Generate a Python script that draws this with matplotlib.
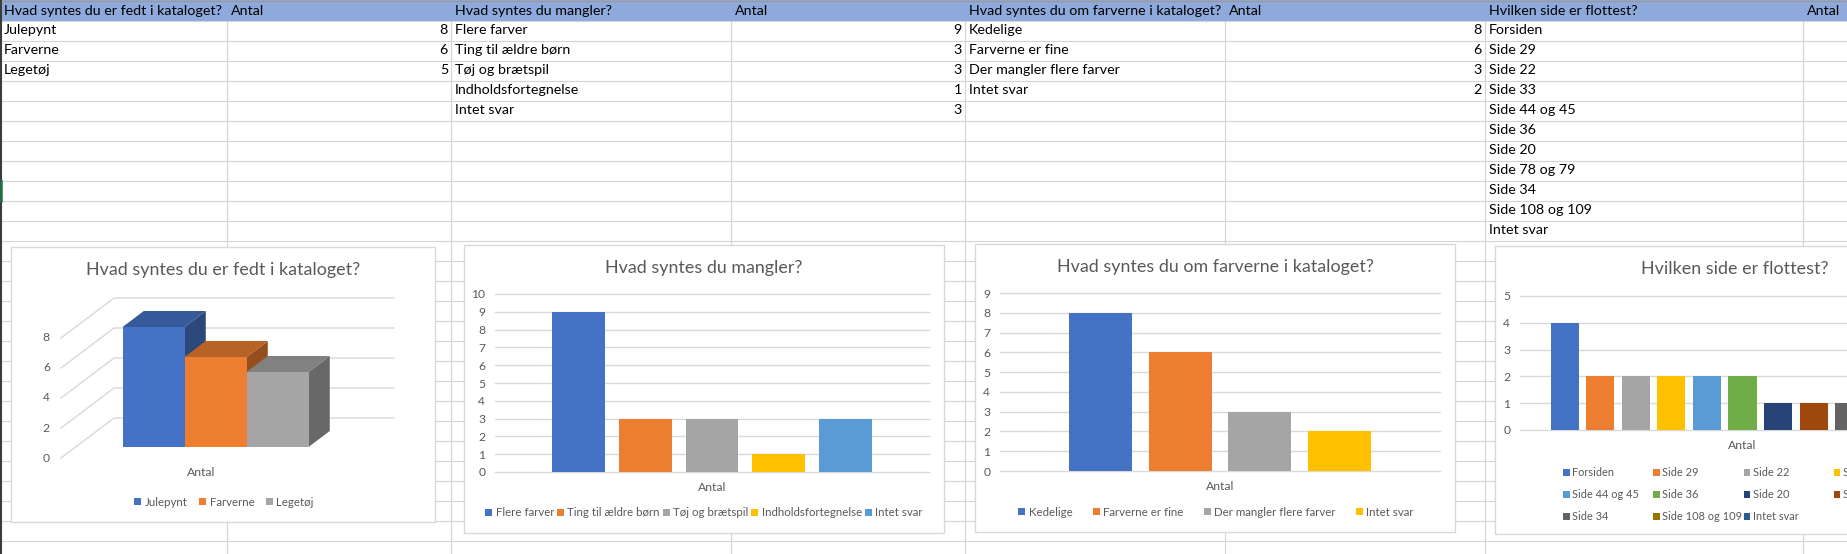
import matplotlib
matplotlib.use('Agg')
import matplotlib.pyplot as plt
from matplotlib.patches import Rectangle, Polygon, Patch

# ---------------- data ----------------
value_header = "Antal"
q1_title = "Hvad syntes du er fedt i kataloget?"
q1_labels = ["Julepynt", "Farverne", "Legetøj"]
q1_values = [8, 6, 5]
q2_title = "Hvad syntes du mangler?"
q2_labels = ["Flere farver", "Ting til ældre børn", "Tøj og brætspil",
             "Indholdsfortegnelse", "Intet svar"]
q2_values = [9, 3, 3, 1, 3]
q3_title = "Hvad syntes du om farverne i kataloget?"
q3_labels = ["Kedelige", "Farverne er fine", "Der mangler flere farver", "Intet svar"]
q3_values = [8, 6, 3, 2]
q4_title = "Hvilken side er flottest?"
q4_labels = ["Forsiden", "Side 29", "Side 22", "Side 33", "Side 44 og 45", "Side 36",
             "Side 20", "Side 78 og 79", "Side 34", "Side 108 og 109", "Intet svar"]
q4_values = [4, 2, 2, 2, 2, 2, 1, 1, 1, 1, 1]
q1_ticks = [0, 2, 4, 6, 8]
q2_ymax = 10
q3_ymax = 9
q4_ymax = 5

office = ['#4472C4', '#ED7D31', '#A5A5A5', '#FFC000', '#5B9BD5', '#70AD47',
          '#264478', '#9E480E', '#636363', '#997300', '#255E91']

FONT = ['Lato', 'DejaVu Sans']
plt.rcParams['font.family'] = FONT
TXT = '#595959'
GRIDC = '#D9D9D9'
CELLGRID = '#D4D4D4'
FS = 8.7      # tick labels
LFS = 8.3     # legend
TFS = 12.9

W, H = 1847, 554
fig = plt.figure(figsize=(W / 100, H / 100), dpi=100)
fig.patch.set_facecolor('white')
bg = fig.add_axes([0, 0, 1, 1])
bg.set_xlim(0, W)
bg.set_ylim(H, 0)
bg.axis('off')


def fb(x0, y0, x1, y1):
    return [x0 / W, 1 - y1 / H, (x1 - x0) / W, (y1 - y0) / H]


# ---------------- spreadsheet ----------------
HDR = 20.5
bg.add_patch(Rectangle((0, 0), W, HDR, facecolor='#8EA9DB', edgecolor='none', zorder=1))
bg.plot([0, W], [0.5, 0.5], color='#9A9A9A', lw=1.0, zorder=2)
col_x = [0, 227, 451, 731, 965, 1225, 1485, 1803]
for x in col_x[1:]:
    bg.plot([x, x], [HDR, H], color=CELLGRID, lw=0.8, zorder=2)
for k in range(28):
    y = HDR + 20 * k
    bg.plot([0, W], [y, y], color=CELLGRID, lw=0.8, zorder=2)
bg.plot([1, 1], [0, H], color='#3C3C3C', lw=1.5, zorder=3)
bg.plot([1, 1], [181, 201], color='#217346', lw=1.8, zorder=4)

CFS = 10.3
headers = [q1_title, value_header, q2_title, value_header,
           q3_title, value_header, q4_title, value_header]
for x, t in zip(col_x, headers):
    bg.text(x + 4, HDR / 2 + 0.5, t, ha='left', va='center', fontsize=CFS,
            color='black', zorder=4, clip_on=True)


def row_y(i):
    return HDR + 20 * i + 10


tables = [(q1_labels, q1_values, 0), (q2_labels, q2_values, 2), (q3_labels, q3_values, 4)]
for labels, values, c in tables:
    for i, (lab, val) in enumerate(zip(labels, values)):
        bg.text(col_x[c] + 4, row_y(i), lab, ha='left', va='center', fontsize=CFS,
                color='black', zorder=4)
        bg.text(col_x[c + 2] - 3, row_y(i), str(val), ha='right', va='center',
                fontsize=CFS, color='black', zorder=4)
for i, lab in enumerate(q4_labels):
    bg.text(col_x[6] + 4, row_y(i), lab, ha='left', va='center', fontsize=CFS,
            color='black', zorder=4)

# ---------------- chart frames ----------------
boxes = [(11, 247, 435, 522), (464, 245, 944, 533), (975, 244, 1455, 532),
         (1495, 246, 1975, 534)]
titles = [q1_title, q2_title, q3_title, q4_title]
for (x0, y0, x1, y1), t in zip(boxes, titles):
    bg.add_patch(Rectangle((x0, y0), x1 - x0, y1 - y0, facecolor='white',
                           edgecolor=GRIDC, lw=1.0, zorder=5))
    bg.text((x0 + x1) / 2, y0 + 23, t, ha='center', va='center', fontsize=TFS,
            color=TXT, zorder=6, clip_on=True)


def legend(ax, labels, colors, cx, cy, cs):
    handles = [Patch(facecolor=c, edgecolor='none') for c in colors]
    leg = ax.legend(handles, labels, loc='center', bbox_to_anchor=(cx, cy),
                    bbox_transform=bg.transData, ncol=len(labels), frameon=False,
                    fontsize=LFS, handlelength=0.6, handleheight=0.6,
                    handletextpad=0.3, columnspacing=cs, borderaxespad=0,
                    borderpad=0)
    for t in leg.get_texts():
        t.set_color(TXT)
    return leg


# ---------------- chart 1 (3D columns) ----------------
ax1 = fig.add_axes(fb(*boxes[0]))
ax1.axis('off')
PX, PY = 62.0, 15.0          # pixels per bar-width / per value unit
OX, OY = 61, 458             # pixel of front-left floor corner
ax1.set_xlim((boxes[0][0] - OX) / PX, (boxes[0][2] - OX) / PX)
ax1.set_ylim((OY - boxes[0][3]) / PY, (OY - boxes[0][1]) / PY)
DX, DY = 53 / PX, 40 / PY    # depth vector
gap = 0.758
Wd = len(q1_values) + 2 * gap
zf, zb = 0.275, 0.675


def proj(x, y, z):
    return (x + z * DX, y + z * DY)


for v in q1_ticks:
    a, b, c = proj(0, v, 0), proj(0, v, 1), proj(Wd, v, 1)
    ax1.plot([a[0], b[0], c[0]], [a[1], b[1], c[1]], color=GRIDC, lw=1.0, zorder=1)
    ax1.text(-11 / PX, v, str(v), ha='right', va='center', fontsize=FS, color=TXT)


def shade(c, f):
    c = c.lstrip('#')
    r, g, b = (int(c[i:i + 2], 16) for i in (0, 2, 4))
    return (r * f / 255, g * f / 255, b * f / 255)


for i, (v, c) in enumerate(zip(q1_values, office)):
    x0, x1 = gap + i, gap + i + 1
    front = [proj(x0, 0, zf), proj(x1, 0, zf), proj(x1, v, zf), proj(x0, v, zf)]
    top = [proj(x0, v, zf), proj(x1, v, zf), proj(x1, v, zb), proj(x0, v, zb)]
    side = [proj(x1, 0, zf), proj(x1, 0, zb), proj(x1, v, zb), proj(x1, v, zf)]
    ax1.add_patch(Polygon(side, closed=True, facecolor=shade(c, 0.63), edgecolor='none', zorder=3 + i))
    ax1.add_patch(Polygon(top, closed=True, facecolor=shade(c, 0.78), edgecolor='none', zorder=3 + i))
    ax1.add_patch(Polygon(front, closed=True, facecolor=c, edgecolor='none', zorder=3 + i))
ax1.text(Wd / 2, -15 / PY, value_header, ha='center', va='center', fontsize=FS, color=TXT)
legend(ax1, q1_labels, office[:3], 224, 502, 1.0)


# ---------------- flat column charts ----------------
def bar_chart(plot_box, labels, values, ymax):
    ax = fig.add_axes(fb(*plot_box))
    ax.set_facecolor('none')
    n = len(values)
    w = 1 / (n + (n - 1) * 0.27 + 2.19)
    xs = [1.095 * w + i * 1.27 * w + w / 2 for i in range(n)]
    ax.bar(xs, values, width=w, color=office[:n], zorder=3)
    ax.set_xlim(0, 1)
    ax.set_ylim(0, ymax)
    ax.set_yticks(range(ymax + 1))
    for v in range(ymax + 1):
        ax.axhline(v, color=GRIDC, lw=1.0, zorder=1, clip_on=False)
    for s in ax.spines.values():
        s.set_visible(False)
    ax.tick_params(axis='y', length=0, labelsize=FS, labelcolor=TXT, pad=7)
    ax.tick_params(axis='x', length=0, labelsize=FS, labelcolor=TXT, pad=7)
    ax.set_xticks([0.5])
    ax.set_xticklabels([value_header])
    return ax


ax2 = bar_chart((495, 294, 929, 472), q2_labels, q2_values, q2_ymax)
legend(ax2, q2_labels, office[:5], 704, 513, 0.25)

ax3 = bar_chart((1000, 293, 1440, 471), q3_labels, q3_values, q3_ymax)
legend(ax3, q3_labels, office[:4], 1216, 512, 1.75)

ax4 = bar_chart((1520, 296, 1965, 430), q4_labels, q4_values, q4_ymax)
# chart 4 legend: 4-column grid
for i, (lab, c) in enumerate(zip(q4_labels, office)):
    r, k = divmod(i, 4)
    lx = 1563 + 90.3 * k
    ly = 472 + 22 * r
    bg.add_patch(Rectangle((lx, ly - 3), 6.5, 6.5, facecolor=c, edgecolor='none', zorder=7))
    bg.text(lx + 9, ly, lab, ha='left', va='center', fontsize=7.9, color=TXT, zorder=7,
            clip_on=True)

fig.savefig('out.png', dpi=100)
